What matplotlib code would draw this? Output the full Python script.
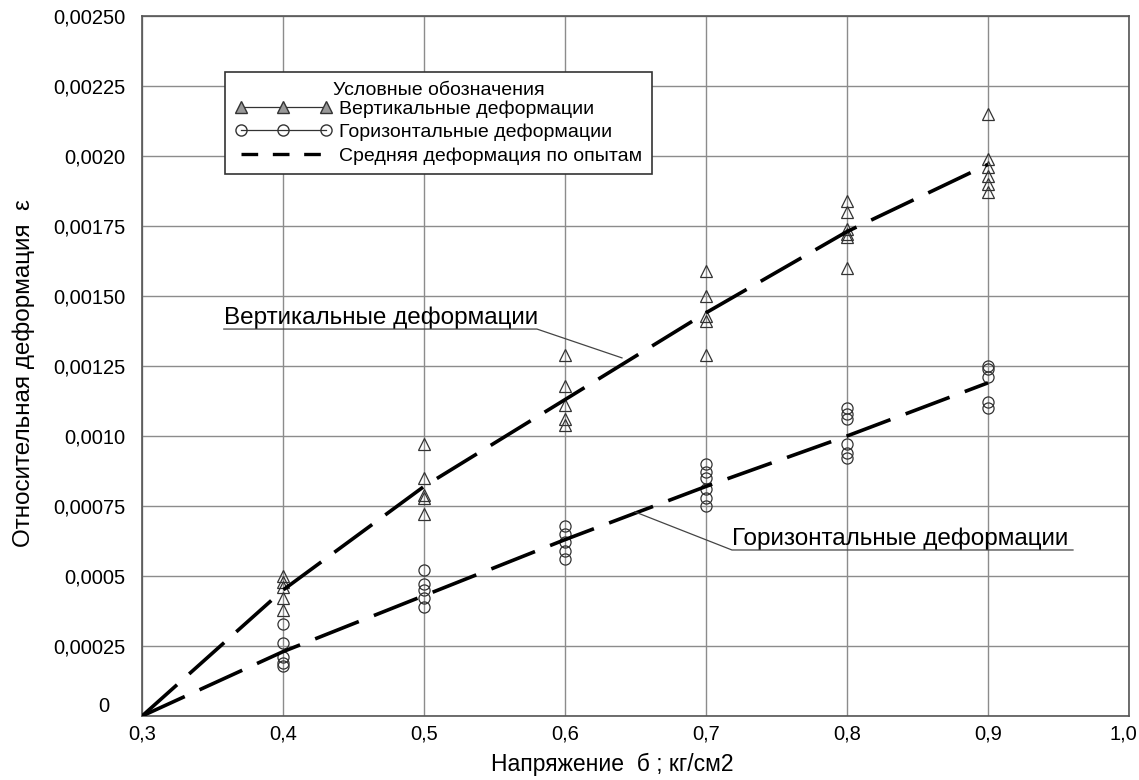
import matplotlib
matplotlib.use('Agg')
import matplotlib.pyplot as plt
from matplotlib.lines import Line2D
from matplotlib.transforms import ScaledTranslation

plt.rcParams['font.family'] = ['Liberation Sans', 'DejaVu Sans']

# напряжение
stress = [0.4, 0.5, 0.6, 0.7, 0.8, 0.9]

# вертикальные деформации (опыты)
vert_pts = [
    [0.00050, 0.00048, 0.00046, 0.00042, 0.00038],
    [0.00097, 0.00085, 0.00079, 0.00078, 0.00072],
    [0.00129, 0.00118, 0.00111, 0.00106, 0.00104],
    [0.00159, 0.00150, 0.00143, 0.00141, 0.00129],
    [0.00184, 0.00180, 0.00174, 0.00172, 0.00171, 0.00160],
    [0.00215, 0.00199, 0.00196, 0.00193, 0.00190, 0.00187],
]

# горизонтальные деформации (опыты)
hor_pts = [
    [0.00033, 0.00026, 0.00021, 0.00019, 0.00018],
    [0.00052, 0.00047, 0.00045, 0.00042, 0.00039],
    [0.00068, 0.00065, 0.00062, 0.00059, 0.00056],
    [0.00090, 0.00087, 0.00085, 0.00081, 0.00078, 0.00075],
    [0.00110, 0.00108, 0.00106, 0.00097, 0.00094, 0.00092],
    [0.00125, 0.00124, 0.00121, 0.00112, 0.00110],
]

# средние линии
mean_x = [0.3, 0.4, 0.5, 0.6, 0.7, 0.8, 0.9]
mean_vert = [0.0, 0.00045, 0.00082, 0.00113, 0.00144, 0.00173, 0.00197]
mean_hor = [0.0, 0.00023, 0.00043, 0.00063, 0.00082, 0.00100, 0.00119]

yticks = [0, 0.00025, 0.0005, 0.00075, 0.0010, 0.00125, 0.00150, 0.00175, 0.0020, 0.00225, 0.00250]
ytick_labels = ['0', '0,00025', '0,0005', '0,00075', '0,0010', '0,00125', '0,00150',
                '0,00175', '0,0020', '0,00225', '0,00250']
xticks = [0.3, 0.4, 0.5, 0.6, 0.7, 0.8, 0.9, 1.0]
xtick_labels = ['0,3', '0,4', '0,5', '0,6', '0,7', '0,8', '0,9', '1,0']

fig = plt.figure(figsize=(11.39, 7.8), dpi=100)
ax = fig.add_axes([0.1247, 0.082, 0.8665, 0.8975])

mark_col = '#333333'
for s, vals in zip(stress, vert_pts):
    ax.plot([s] * len(vals), vals, linestyle='none', marker='^', markersize=8,
            markerfacecolor='none', markeredgecolor=mark_col, markeredgewidth=0.9, zorder=3)
for s, vals in zip(stress, hor_pts):
    ax.plot([s] * len(vals), vals, linestyle='none', marker='o', markersize=8,
            markerfacecolor='none', markeredgecolor=mark_col, markeredgewidth=0.9, zorder=3)

dash = (0, (13, 4.5))
ax.plot(mean_x, mean_vert, color='black', lw=2.6, linestyle=dash, zorder=4)
ax.plot(mean_x, mean_hor, color='black', lw=2.6, linestyle=dash, zorder=4)

ax.set_xlim(0.3, 1.0)
ax.set_ylim(0, 0.0025)
ax.set_xticks(xticks)
ax.set_xticklabels(xtick_labels)
ax.set_yticks(yticks)
ax.set_yticklabels(ytick_labels)
ax.tick_params(length=0, labelsize=14.5)
ax.tick_params(axis='y', pad=12)
ax.tick_params(axis='x', pad=6)
ax.grid(True, color='#8c8c8c', lw=1.0)
ax.set_axisbelow(True)
for sp in ax.spines.values():
    sp.set_color('#555555')
    sp.set_linewidth(1.2)

# "0" у начала координат сдвинут влево-вверх
zero_lbl = ax.get_yticklabels()[0]
zero_lbl.set_transform(zero_lbl.get_transform() + ScaledTranslation(-16 / 100, 12 / 100, fig.dpi_scale_trans))
# "1,0" прижат к правому краю
last_lbl = ax.get_xticklabels()[-1]
last_lbl.set_horizontalalignment('right')
last_lbl.set_transform(last_lbl.get_transform() + ScaledTranslation(8 / 100, 0, fig.dpi_scale_trans))

ax.set_xlabel('Напряжение  б ; кг/см2', fontsize=16.5)
ax.xaxis.set_label_coords(0.476, -0.053)
ax.set_ylabel('Относительная деформация  ε', fontsize=17.5)
ax.yaxis.set_label_coords(-0.108, 0.49)

# подписи с выносками
lead_col = '#444444'
ax.text(0.358, 0.001382, 'Вертикальные деформации', fontsize=17.5, va='bottom', ha='left')
ax.plot([0.358, 0.5801, 0.6404], [0.001382, 0.001382, 0.001279], color=lead_col, lw=0.9, zorder=5)
ax.text(0.7184, 0.000593, 'Горизонтальные деформации', fontsize=17.5, va='bottom', ha='left')
ax.plot([0.6496, 0.7184, 0.9603], [0.000729, 0.000593, 0.000593], color=lead_col, lw=0.9, zorder=5)

handles = [
    Line2D([], [], color='#333333', lw=0.9, marker='^', markersize=8,
           markerfacecolor='#999999', markeredgecolor='#333333'),
    Line2D([], [], color='#333333', lw=0.9, marker='o', markersize=8,
           markerfacecolor='none', markeredgecolor='#333333'),
    Line2D([], [], color='black', lw=2.4, linestyle=(0, (5.0, 4.4))),
]
labels = ['Вертикальные деформации', 'Горизонтальные деформации',
          'Средняя деформация по опытам']
leg = ax.legend(handles, labels, title='Условные обозначения', loc='upper left',
                bbox_to_anchor=(0.0841, 0.92), borderaxespad=0, numpoints=3,
                handlelength=5.0, handletextpad=0.35, fontsize=14, title_fontsize=14,
                frameon=True, fancybox=False, edgecolor='#333333', framealpha=1,
                borderpad=0.5, labelspacing=0.3)
leg.get_frame().set_linewidth(1.2)
leg._legend_box.sep = 1

fig.savefig('out.png', dpi=100)
